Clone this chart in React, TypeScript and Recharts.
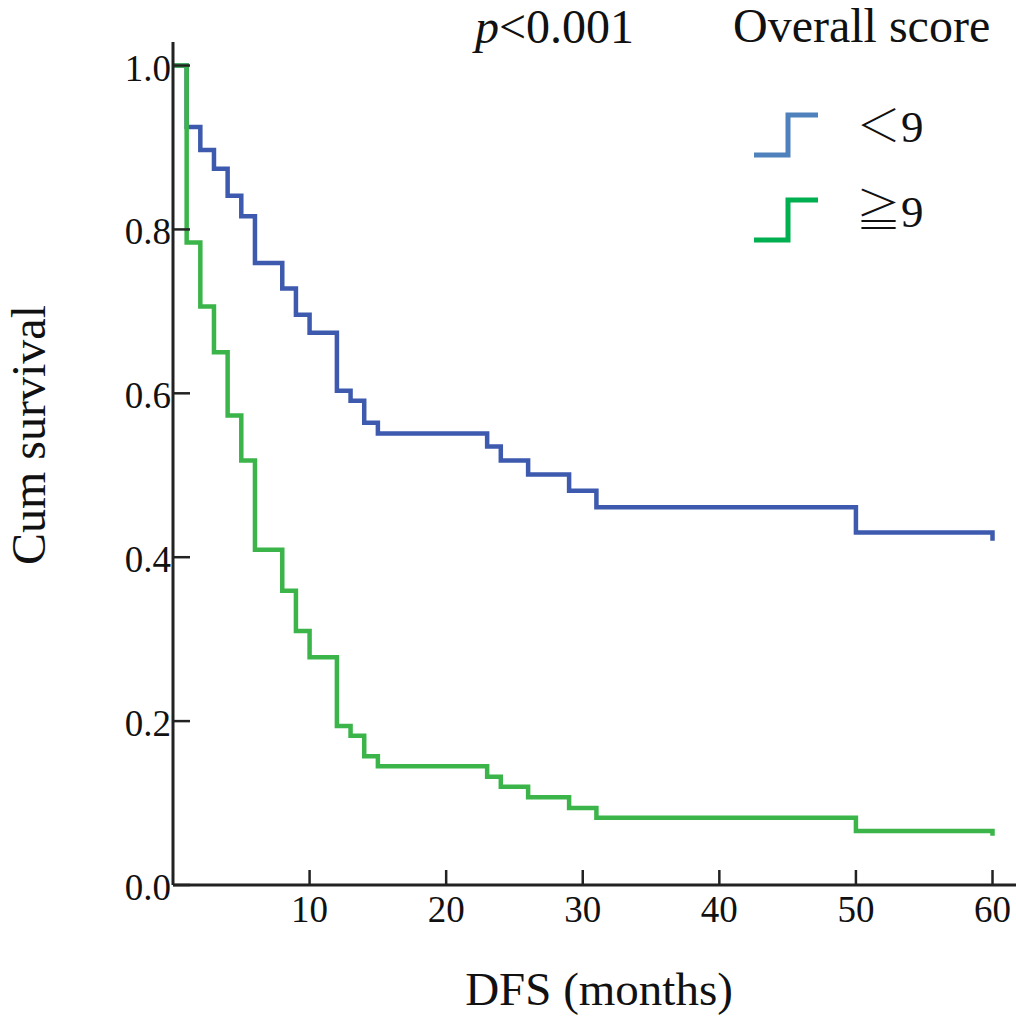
import React from 'react';
import { LineChart, Line, XAxis, YAxis, Legend, Customized } from 'recharts';

// Kaplan–Meier step curves for disease-free survival by overall score group
const months = [0, 1, 2, 3, 4, 5, 6, 8, 9, 10, 12, 13, 14, 15, 23, 24, 26, 29, 31, 50, 60];
const survivalLow = [1.0, 0.925, 0.897, 0.874, 0.841, 0.816, 0.759, 0.728, 0.696, 0.674, 0.603, 0.591, 0.564, 0.551, 0.535, 0.518, 0.501, 0.481, 0.461, 0.43, 0.42];
const survivalHigh = [1.0, 0.784, 0.706, 0.65, 0.573, 0.518, 0.409, 0.359, 0.31, 0.278, 0.194, 0.182, 0.157, 0.145, 0.132, 0.12, 0.107, 0.094, 0.082, 0.066, 0.06];

const groupNames = ['＜9', '≧9'];
const lineColors = ['#3D5AAE', '#3BB54A'];
const legendColors = ['#4F81BD', '#00B050'];
const xTicks = [10, 20, 30, 40, 50, 60];
const yTicks = [0, 0.2, 0.4, 0.6, 0.8, 1.0];

const lowData = months.map((m, i) => ({ month: m, survival: survivalLow[i] }));
const highData = months.map((m, i) => ({ month: m, survival: survivalHigh[i] }));

const FONT = "'Liberation Serif', 'Times New Roman', 'Noto Serif CJK JP', 'Noto Sans CJK JP', serif";
const AXIS = '#222';

const XTick = (props: any) => {
  const { x, y, payload } = props;
  return (
    <g>
      <line x1={x} y1={y} x2={x} y2={y - 15} stroke={AXIS} strokeWidth={2.5} />
      <text x={x} y={y + 37} textAnchor="middle" fontFamily={FONT} fontSize={37} fill="#111">
        {payload.value}
      </text>
    </g>
  );
};

const YTick = (props: any) => {
  const { x, y, payload } = props;
  return (
    <g>
      <line x1={x} y1={y} x2={x + 17} y2={y} stroke={AXIS} strokeWidth={2.5} />
      <text x={x - 2} y={y + 15} textAnchor="end" fontFamily={FONT} fontSize={37} fill="#111">
        {Number(payload.value).toFixed(1)}
      </text>
    </g>
  );
};

const LegendBox = () => (
  <svg width={316} height={260} style={{ display: 'block' }}>
    <text x={33} y={42} fontFamily={FONT} fontSize={48} fill="#111">Overall score</text>
    {groupNames.map((name, i) => {
      const base = 155 + i * 85;
      return (
        <g key={name}>
          <path
            d={`M 54 ${base} H 88 V ${base - 40} H 118`}
            fill="none"
            stroke={legendColors[i]}
            strokeWidth={5}
            strokeLinejoin="miter"
          />
          <text x={156} y={base - 13} fontFamily={FONT} fontSize={45} fill="#111">{name}</text>
        </g>
      );
    })}
  </svg>
);

const Annotations = () => (
  <g>
    <text x={475} y={43} fontFamily={FONT} fontSize={48} fill="#111">
      <tspan fontStyle="italic">p</tspan>
      <tspan>&lt;0.001</tspan>
    </text>
    <text
      x={45}
      y={435}
      transform="rotate(-90 45 435)"
      textAnchor="middle"
      fontFamily={FONT}
      fontSize={48}
      fill="#111"
    >
      Cum survival
    </text>
    <text x={599} y={1005} textAnchor="middle" fontFamily={FONT} fontSize={47} fill="#111">
      DFS (months)
    </text>
  </g>
);

export default function App() {
  return (
    <div style={{ position: 'absolute', left: 0, top: 0, background: '#fff' }}>
      <LineChart width={1016} height={1018} margin={{ top: 42, right: 0, bottom: 0, left: 0 }}>
        <XAxis
          dataKey="month"
          type="number"
          domain={[0, 61.72]}
          ticks={xTicks}
          tickSize={0}
          tickMargin={0}
          tick={<XTick />}
          tickLine={false}
          axisLine={{ stroke: AXIS, strokeWidth: 3 }}
          height={133}
          allowDataOverflow
        />
        <YAxis
          type="number"
          domain={[0, 1.0287]}
          ticks={yTicks}
          tickSize={0}
          tickMargin={0}
          tick={<YTick />}
          tickLine={false}
          axisLine={{ stroke: AXIS, strokeWidth: 3 }}
          width={173}
          allowDataOverflow
        />
        <Line
          data={lowData}
          dataKey="survival"
          name={groupNames[0]}
          type="stepAfter"
          stroke={lineColors[0]}
          strokeWidth={4.5}
          strokeLinejoin="miter"
          dot={false}
          activeDot={false}
          isAnimationActive={false}
        />
        <Line
          data={highData}
          dataKey="survival"
          name={groupNames[1]}
          type="stepAfter"
          stroke={lineColors[1]}
          strokeWidth={4.5}
          strokeLinejoin="miter"
          dot={false}
          activeDot={false}
          isAnimationActive={false}
        />
        <Legend
          layout="vertical"
          align="center"
          verticalAlign="middle"
          content={() => <LegendBox />}
          wrapperStyle={{ left: 700, top: 0, width: 316, height: 260 }}
        />
        <Customized component={Annotations} />
      </LineChart>
    </div>
  );
}
